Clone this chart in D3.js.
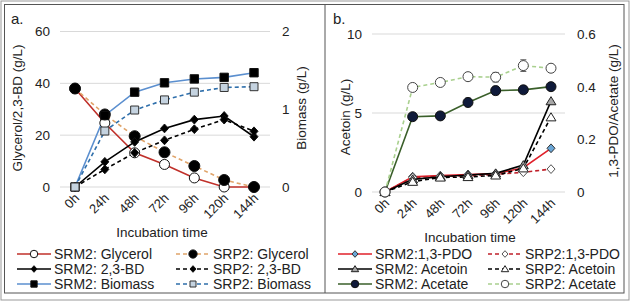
<!DOCTYPE html>
<html>
<head>
<meta charset="UTF-8">
<style>
body{margin:0;background:#fff;}
text{font-family:"Liberation Sans",Arial,sans-serif;fill:#222;}
.grid line{stroke:#d9d9d9;stroke-width:1;}
</style>
</head>
<body>
<svg width="631" height="303"></svg>
<script src="https://cdn.jsdelivr.net/npm/d3@7"></script>
<script>
var times = ["0h","24h","48h","72h","96h","120h","144h"];

// panel a
var srm2Glycerol = [38, 24.7, 13.2, 8.7, 3.5, 0, 0];
var srp2Glycerol = [38, 28, 19.6, 13.4, 8.1, 2.7, 0];
var srm2BD = [0, 9.7, 17.4, 22.6, 26, 27.4, 19.4];
var srp2BD = [0, 6.8, 13.2, 18, 22.3, 26, 21.5];
var srm2Biomass = [0, 0.92, 1.22, 1.34, 1.39, 1.41, 1.47];
var srp2Biomass = [0, 0.72, 0.99, 1.12, 1.22, 1.28, 1.29];

// panel b
var srm2PDO = [0, 0.058, 0.062, 0.066, 0.07, 0.092, 0.166];
var srp2PDO = [0, 0.055, 0.06, 0.061, 0.067, 0.075, 0.087];
var srm2Acetoin = [0, 0.8, 0.97, 1.08, 1.18, 1.7, 5.75];
var srp2Acetoin = [0, 0.65, 0.92, 0.95, 1.05, 1.5, 4.73];
var srm2Acetate = [0, 0.286, 0.289, 0.34, 0.385, 0.388, 0.40];
var srp2Acetate = [0, 0.397, 0.416, 0.438, 0.436, 0.48, 0.47];
var srm2AcetateErr = [0, 0.01, 0.014, 0.016, 0.016, 0.014, 0.008];
var srp2AcetateErr = [0, 0.006, 0.008, 0.014, 0.018, 0.022, 0.014];

var svg = d3.select("svg");

// frames
svg.append("rect").attr("x",1).attr("y",1).attr("width",628).attr("height",299)
  .attr("fill","none").attr("stroke","#999");
svg.append("rect").attr("x",4.5).attr("y",4.5).attr("width",619.5).attr("height",288.5)
  .attr("fill","none").attr("stroke","#555");
svg.append("line").attr("x1",325).attr("x2",325).attr("y1",4.5).attr("y2",293)
  .attr("stroke","#555");

function marker(g, shape, x, y, o, k) {
  k = k || 1;
  var r = o.size * k, s;
  if (shape == "circle") {
    s = g.append("circle").attr("cx", x).attr("cy", y).attr("r", r);
  } else {
    var p = d3.path();
    if (shape == "square") {
      p.rect(x - r, y - r, 2 * r, 2 * r);
    } else if (shape == "diamond") {
      p.moveTo(x, y - r * 1.1); p.lineTo(x + r, y); p.lineTo(x, y + r * 1.1); p.lineTo(x - r, y); p.closePath();
    } else {
      p.moveTo(x, y - r); p.lineTo(x + r * 1.1, y + r * 0.8); p.lineTo(x - r * 1.1, y + r * 0.8); p.closePath();
    }
    s = g.append("path").attr("d", p.toString());
  }
  s.attr("fill", o.fill).attr("stroke", o.mstroke || "#111").attr("stroke-width", 1);
}

function panel(cfg) {
  var g = svg.append("g");
  var x = d3.scalePoint().domain(times).range(cfg.xr);
  var yl = d3.scaleLinear().domain(cfg.yl).range([cfg.y0, cfg.y1]);
  var yr = d3.scaleLinear().domain(cfg.yr).range([cfg.y0, cfg.y1]);

  g.append("g").attr("class","grid").selectAll("line").data(cfg.ylTicks).join("line")
    .attr("x1", cfg.gx[0]).attr("x2", cfg.gx[1])
    .attr("y1", function(d){ return yl(d); }).attr("y2", function(d){ return yl(d); });

  g.selectAll(".tl").data(cfg.ylTicks).join("text")
    .attr("x", cfg.gx[0] - 10).attr("y", function(d){ return yl(d); }).attr("dy","0.36em")
    .attr("text-anchor","end").style("font-size","13.5px").text(function(d){ return d; });
  g.selectAll(".tr").data(cfg.yrTicks).join("text")
    .attr("x", cfg.gx[1] + 12).attr("y", function(d){ return yr(d); }).attr("dy","0.36em")
    .style("font-size","13.5px").text(function(d){ return d; });

  g.selectAll(".tx").data(times).join("text")
    .attr("transform", function(d){ return "translate(" + (x(d) + 5) + "," + (cfg.y0 + 12) + ") rotate(-45)"; })
    .attr("text-anchor","end").style("font-size","13px").text(function(d){ return d; });

  g.append("text").attr("x", cfg.titleX).attr("y", cfg.titleY).attr("text-anchor","middle")
    .style("font-size","13.5px").text("Incubation time");
  g.append("text").attr("transform","translate(" + cfg.ylabX + "," + cfg.ylabY + ") rotate(-90)")
    .attr("text-anchor","middle").style("font-size","13.5px").text(cfg.ylab);
  g.append("text").attr("transform","translate(" + cfg.yrlabX + "," + cfg.yrlabY + ") rotate(-90)")
    .attr("text-anchor","middle").style("font-size","13.5px").text(cfg.yrlab);
  g.append("text").attr("x", cfg.tagX).attr("y", 24).style("font-size","15px").text(cfg.tag);

  var line = d3.line();
  cfg.series.forEach(function(s) {
    var y = s.axis == "r" ? yr : yl;
    var pts = s.values.map(function(v, i){ return [x(times[i]), y(v)]; });
    g.append("path").attr("d", line(pts)).attr("fill","none")
      .attr("stroke", s.color).attr("stroke-width", 1.6)
      .attr("stroke-dasharray", s.dash ? "4,3" : null);
    if (s.err) {
      s.values.forEach(function(v, i) {
        if (!s.err[i]) return;
        var xx = x(times[i]);
        g.append("path").attr("d", "M" + (xx-3) + "," + y(v + s.err[i]) + "H" + (xx+3) +
            "M" + xx + "," + y(v + s.err[i]) + "V" + y(v - s.err[i]) +
            "M" + (xx-3) + "," + y(v - s.err[i]) + "H" + (xx+3))
          .attr("stroke","#555").attr("fill","none");
      });
    }
  });
  cfg.series.forEach(function(s) {
    var y = s.axis == "r" ? yr : yl;
    s.values.forEach(function(v, i){ marker(g, s.shape, x(times[i]), y(v), s); });
  });

  // legend
  cfg.series.forEach(function(s, i) {
    var col = i % 2, row = Math.floor(i / 2);
    var lx = cfg.legX[col], ly = cfg.legY + row * 15;
    g.append("line").attr("x1", lx).attr("x2", lx + 34).attr("y1", ly).attr("y2", ly)
      .attr("stroke", s.color).attr("stroke-width", 1.6)
      .attr("stroke-dasharray", s.dash ? "4,3" : null);
    marker(g, s.shape, lx + 17, ly, s, 0.75);
    g.append("text").attr("x", lx + 37).attr("y", ly).attr("dy","0.36em")
      .style("font-size","14px").text(s.name);
  });
}

panel({
  xr: [75, 254], gx: [60, 270], y0: 187, y1: 31.5,
  yl: [0, 60], yr: [0, 2], ylTicks: [0, 20, 40, 60], yrTicks: [0, 1, 2],
  titleX: 162, titleY: 237, ylab: "Glycerol/2,3-BD (g/L)", ylabX: 22, ylabY: 108,
  yrlab: "Biomass (g/L)", yrlabX: 306, yrlabY: 108, tag: "a.", tagX: 11,
  legX: [17, 176], legY: 254,
  series: [
    {name: "SRM2: Glycerol", values: srm2Glycerol, color: "#c0302a", shape: "circle", size: 5, fill: "#fff"},
    {name: "SRP2: Glycerol", values: srp2Glycerol, color: "#e0a46a", dash: true, shape: "circle", size: 5.5, fill: "#000"},
    {name: "SRM2: 2,3-BD", values: srm2BD, color: "#000", shape: "diamond", size: 4, fill: "#000"},
    {name: "SRP2: 2,3-BD", values: srp2BD, color: "#000", dash: true, shape: "diamond", size: 4, fill: "#000"},
    {name: "SRM2: Biomass", values: srm2Biomass, axis: "r", color: "#5b8fcf", shape: "square", size: 4.2, fill: "#000"},
    {name: "SRP2: Biomass", values: srp2Biomass, axis: "r", color: "#2f6fab", dash: true, shape: "square", size: 4, fill: "#c5d3e0", mstroke: "#333"}
  ]
});

panel({
  xr: [385, 551], gx: [372, 565], y0: 192, y1: 34,
  yl: [0, 10], yr: [0, 0.6], ylTicks: [0, 5, 10], yrTicks: [0, 0.2, 0.4, 0.6],
  titleX: 470, titleY: 242, ylab: "Acetoin (g/L)", ylabX: 350, ylabY: 117,
  yrlab: "1,3-PDO/Acetate (g/L)", yrlabX: 618, yrlabY: 111, tag: "b.", tagX: 333,
  legX: [338, 488], legY: 254,
  series: [
    {name: "SRM2:1,3-PDO", values: srm2PDO, axis: "r", color: "#e0202a", shape: "diamond", size: 4, fill: "#6aa6d6", mstroke: "#333"},
    {name: "SRP2:1,3-PDO", values: srp2PDO, axis: "r", color: "#c0202a", dash: true, shape: "diamond", size: 4, fill: "#fff", mstroke: "#555"},
    {name: "SRM2: Acetoin", values: srm2Acetoin, color: "#000", shape: "triangle", size: 4.5, fill: "#a6a6a6", mstroke: "#222"},
    {name: "SRP2: Acetoin", values: srp2Acetoin, color: "#000", dash: true, shape: "triangle", size: 4.5, fill: "#fff", mstroke: "#222"},
    {name: "SRM2: Acetate", values: srm2Acetate, axis: "r", err: srm2AcetateErr, color: "#3a5f2a", shape: "circle", size: 5, fill: "#0f1a3a", mstroke: "#111"},
    {name: "SRP2: Acetate", values: srp2Acetate, axis: "r", err: srp2AcetateErr, color: "#a9d08e", dash: true, shape: "circle", size: 5, fill: "#fff", mstroke: "#444"}
  ]
});
</script>
</body>
</html>
